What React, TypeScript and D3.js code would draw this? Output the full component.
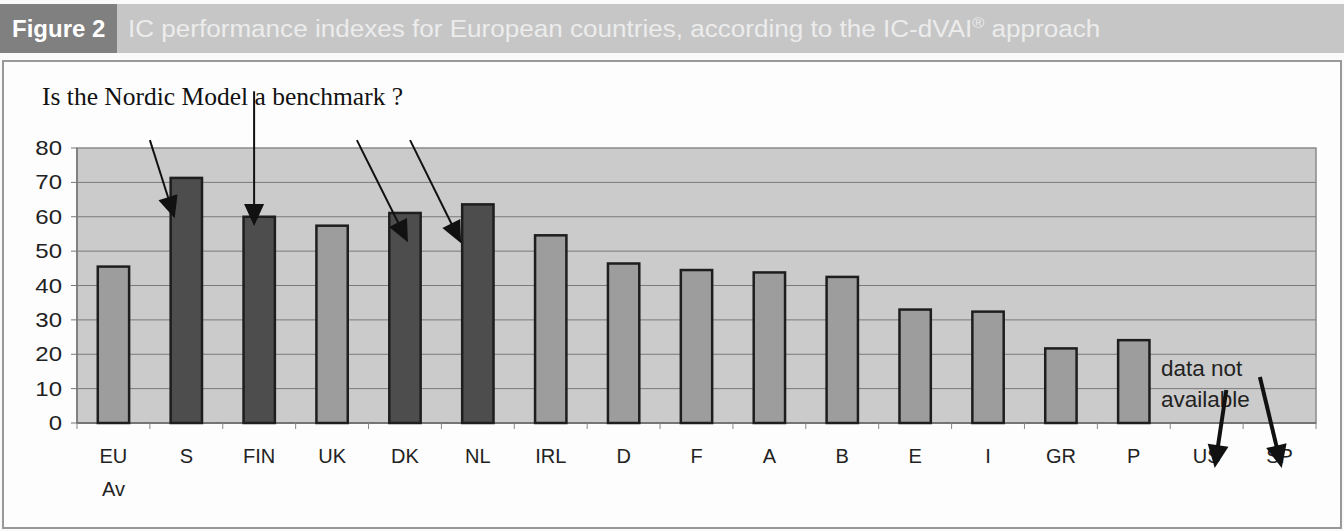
import React from "react";
import * as d3 from "d3";

const categories = ["EU\nAv", "S", "FIN", "UK", "DK", "NL", "IRL", "D", "F", "A", "B", "E", "I", "GR", "P", "US", "SP"];
const values: (number | null)[] = [45.5, 71.3, 60.0, 57.4, 61.1, 63.6, 54.6, 46.4, 44.5, 43.8, 42.5, 33.0, 32.4, 21.7, 24.1, null, null];
const nordic = ["S", "FIN", "DK", "NL"];
const yTicks = [0, 10, 20, 30, 40, 50, 60, 70, 80];

// annotation arrows: [band-index position, value] from -> to
const arrows = [
  { from: [1.0, 82.3], to: [1.34, 59.6], thick: false },
  { from: [2.43, 96.5], to: [2.43, 57.3], thick: false },
  { from: [3.84, 82.3], to: [4.54, 52.6], thick: false },
  { from: [4.57, 82.3], to: [5.27, 52.3], thick: false },
  { from: [15.77, 9.6], to: [15.61, -13.1], thick: true },
  { from: [16.23, 13.4], to: [16.53, -13.1], thick: true },
];

const W = 1344;
const H = 531;
const left = 77, right = 1316, top = 148, bottom = 423;

export default function App() {
  const x = d3.scaleBand<string>().domain(categories).range([left, right]).paddingInner(0.57).paddingOuter(0.285);
  const xi = d3.scaleLinear().domain([0, categories.length]).range([left, right]);
  const y = d3.scaleLinear().domain([0, 80]).range([bottom, top]);
  const sans = "Liberation Sans, Arial, sans-serif";

  const arrowEls = arrows.map((a, i) => {
    const x1 = xi(a.from[0]), y1 = y(a.from[1]);
    const x2 = xi(a.to[0]), y2 = y(a.to[1]);
    const dx = x2 - x1, dy = y2 - y1;
    const len = Math.hypot(dx, dy);
    const ux = dx / len, uy = dy / len;
    const L = a.thick ? 23 : 22, Wd = a.thick ? 10.5 : 10;
    const bx = x2 - ux * L, by = y2 - uy * L;
    const pts = [
      [x2, y2],
      [bx - uy * Wd, by + ux * Wd],
      [bx + uy * Wd, by - ux * Wd],
    ];
    return (
      <g key={i}>
        <line x1={x1} y1={y1} x2={bx + ux * 2} y2={by + uy * 2} stroke="#111" strokeWidth={a.thick ? 4 : 2} />
        <polygon points={pts.map((p) => p.join(",")).join(" ")} fill="#111" />
      </g>
    );
  });

  return (
    <svg width={W} height={H} style={{ position: "absolute", left: 0, top: 0, background: "#fafafa" }}>
      {/* title bar */}
      <rect x={0} y={4} width={W} height={49} fill="#c6c6c6" />
      <rect x={0} y={4} width={117} height={49} fill="#808080" />
      <text x={12} y={37} fill="#ffffff" fontFamily={sans} fontWeight="bold" fontSize={24}>Figure 2</text>
      <text transform="translate(128,37) scale(1.087,1)" fill="#ececec" fontFamily={sans} fontSize={24}>
        IC performance indexes for European countries, according to the IC-dVAI
        <tspan fontSize={15} dy={-9}>®</tspan>
        <tspan dy={9}> approach</tspan>
      </text>

      {/* frame */}
      <rect x={3} y={61} width={1338} height={467} fill="#fdfdfd" stroke="#999" strokeWidth={2} />

      {/* subtitle */}
      <text x={42} y={105} fontFamily="Liberation Serif, Times New Roman, serif" fontSize={25.5} fill="#111">Is the Nordic Model a benchmark ?</text>

      {/* plot area */}
      <rect x={left} y={top} width={right - left} height={bottom - top} fill="#cbcbcb" stroke="#8a8a8a" strokeWidth={1.5} />
      {yTicks.map((t) => (
        <g key={t}>
          {t > 0 && t < 80 && <line x1={left} x2={right} y1={y(t)} y2={y(t)} stroke="#7a7a7a" strokeWidth={1} />}
          <line x1={left - 6} x2={left} y1={y(t)} y2={y(t)} stroke="#777" strokeWidth={1} />
          <text transform={`translate(62,${y(t)}) scale(1.2,1)`} dy="0.35em" textAnchor="end" fontFamily={sans} fontSize={20} fill="#222">{t}</text>
        </g>
      ))}
      <line x1={left} x2={left} y1={top} y2={bottom} stroke="#777" strokeWidth={1.5} />
      <line x1={left} x2={right} y1={bottom} y2={bottom} stroke="#666" strokeWidth={1.5} />
      {d3.range(categories.length + 1).map((i) => (
        <line key={i} x1={xi(i)} x2={xi(i)} y1={bottom} y2={bottom + 6} stroke="#888" strokeWidth={1} />
      ))}

      {/* bars */}
      {categories.map((c, i) => {
        const v = values[i];
        if (v == null) return null;
        const dark = nordic.includes(c);
        return (
          <rect key={c} x={x(c)} y={y(v)} width={x.bandwidth()} height={y(0) - y(v)}
            fill={dark ? "#4d4d4d" : "#9d9d9d"} stroke="#1e1e1e" strokeWidth={2.5} />
        );
      })}

      {/* category labels */}
      {categories.map((c) => {
        const lines = c.split("\n");
        return (
          <text key={c} x={(x(c) as number) + x.bandwidth() / 2} y={463} textAnchor="middle" fontFamily={sans} fontSize={20} fill="#222">
            {lines.map((l, j) => (
              <tspan key={j} x={(x(c) as number) + x.bandwidth() / 2} dy={j === 0 ? 0 : 33}>{l}</tspan>
            ))}
          </text>
        );
      })}

      {/* data not available */}
      <text x={1161} y={376} fontFamily={sans} fontSize={22.5} fill="#222">data not</text>
      <text x={1161} y={407} fontFamily={sans} fontSize={22.5} fill="#222">available</text>

      {arrowEls}
    </svg>
  );
}
